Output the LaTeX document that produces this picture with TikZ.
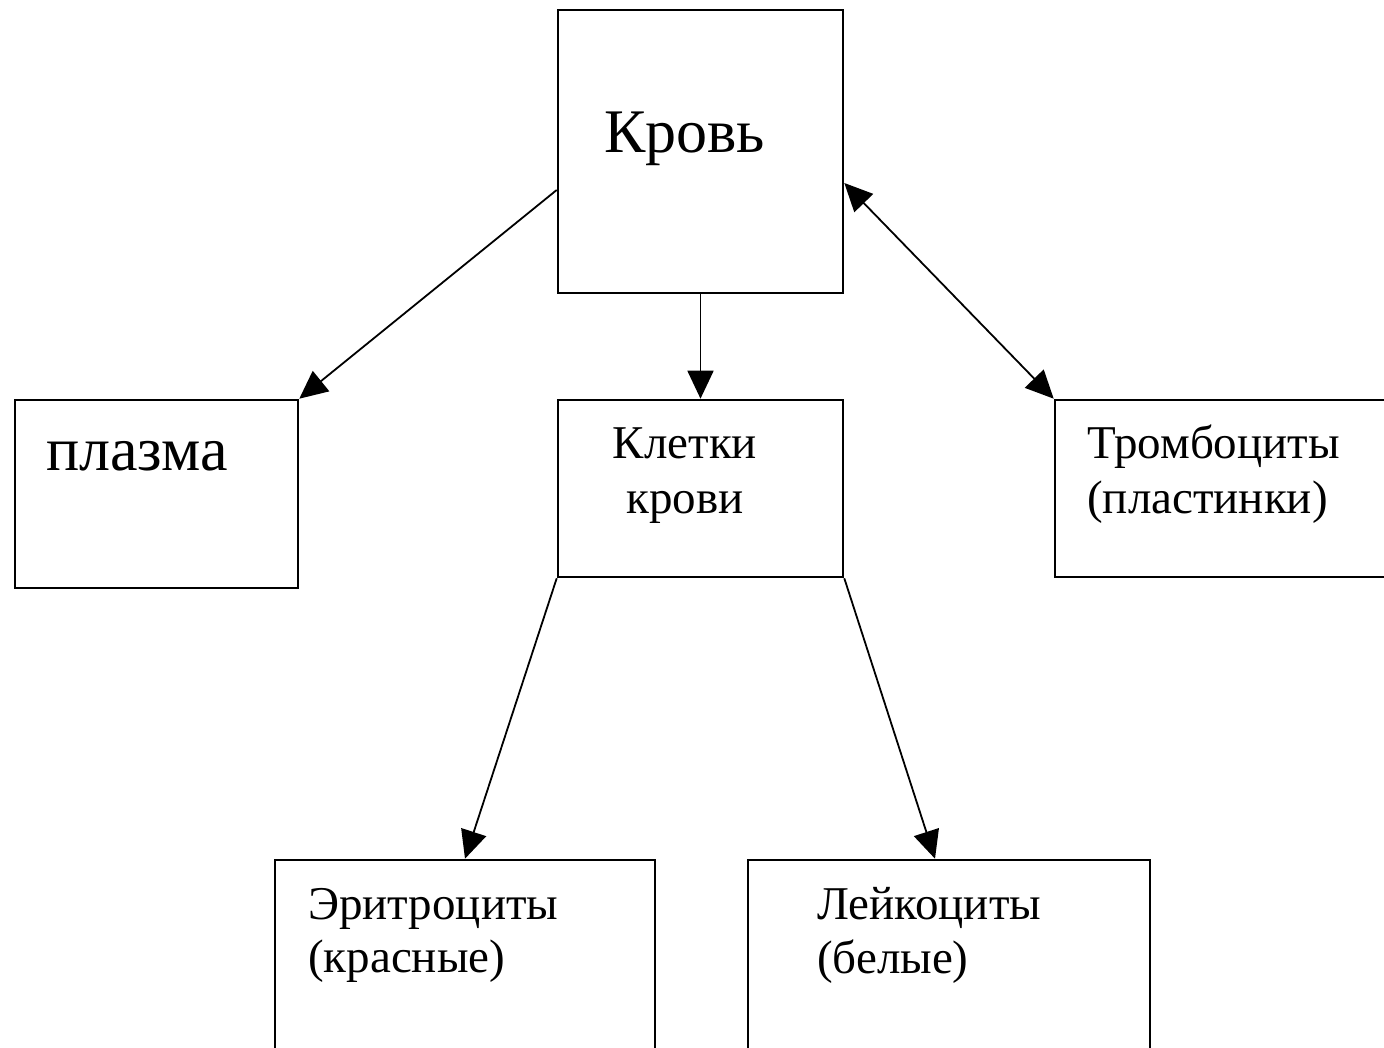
\documentclass[tikz,border=0pt]{standalone}
\usepackage{fontspec}
\setmainfont{Liberation Serif}
\usetikzlibrary{arrows.meta,calc}
\begin{document}
\begin{tikzpicture}[x=1pt,y=-1pt,
  box/.style={draw=black,line width=2.6pt,rectangle,inner sep=0pt},
  conn/.style={draw=black,line width=1.8pt,-{Triangle[length=28pt,width=26pt]}},
  bconn/.style={draw=black,line width=1.8pt,{Triangle[length=28pt,width=26pt]}-{Triangle[length=28pt,width=26pt]}},
  small/.style={font=\fontsize{47}{52}\selectfont,inner sep=0pt},
  big/.style={font=\fontsize{62}{68}\selectfont,inner sep=0pt}]
\useasboundingbox (0,0) rectangle (1384,1047);
\clip (0,0) rectangle (1384,1047);
\fill[white] (0,0) rectangle (1384,1047);
% boxes
\node[box,minimum width=285pt,minimum height=283pt] (krov) at (700.5,151.5) {};
\node[box,minimum width=283pt,minimum height=188pt] (plazma) at (156.5,494) {};
\node[box,minimum width=285pt,minimum height=177pt] (kletki) at (700.5,488.5) {};
\node[box,minimum width=365pt,minimum height=177pt] (tromb) at (1237.5,488.5) {};
\node[box,minimum width=380pt,minimum height=240pt] (eritr) at (465,980) {};
\node[box,minimum width=402pt,minimum height=240pt] (leik) at (949,980) {};
% texts
\node[big,anchor=base west] (tkrov) at (604,152) {Кровь};
\node[big,anchor=base west] (tplazma) at (46,470) {плазма};
\node[small,anchor=base] (tkl1) at (685,458) {Клетки};
\node[small,anchor=base] (tkl2) at (685,513) {крови};
\node[small,anchor=base west] (ttr1) at (1087,458) {Тромбоциты};
\node[small,anchor=base west] (ttr2) at (1087,513) {(пластинки)};
\node[small,anchor=base west] (ter1) at (308,919) {Эритроциты};
\node[small,anchor=base west] (ter2) at (308,972) {(красные)};
\node[small,anchor=base west] (tle1) at (817,919) {Лейкоциты};
\node[small,anchor=base west] (tle2) at (817,973) {(белые)};
% connector points
\coordinate (kw) at ($(krov.west)+(0,38.5)$);
\coordinate (ke) at ($(krov.east)+(0,31.5)$);
\coordinate (lt) at ($(leik.north)+(-14,0)$);
% connectors
\draw[conn] (kw) -- (plazma.north east);
\draw[conn] (krov.south) -- (kletki.north);
\draw[bconn] (ke) -- (tromb.north west);
\draw[conn] (kletki.south west) -- (eritr.north);
\draw[conn] (kletki.south east) -- (lt);
\end{tikzpicture}
\end{document}
